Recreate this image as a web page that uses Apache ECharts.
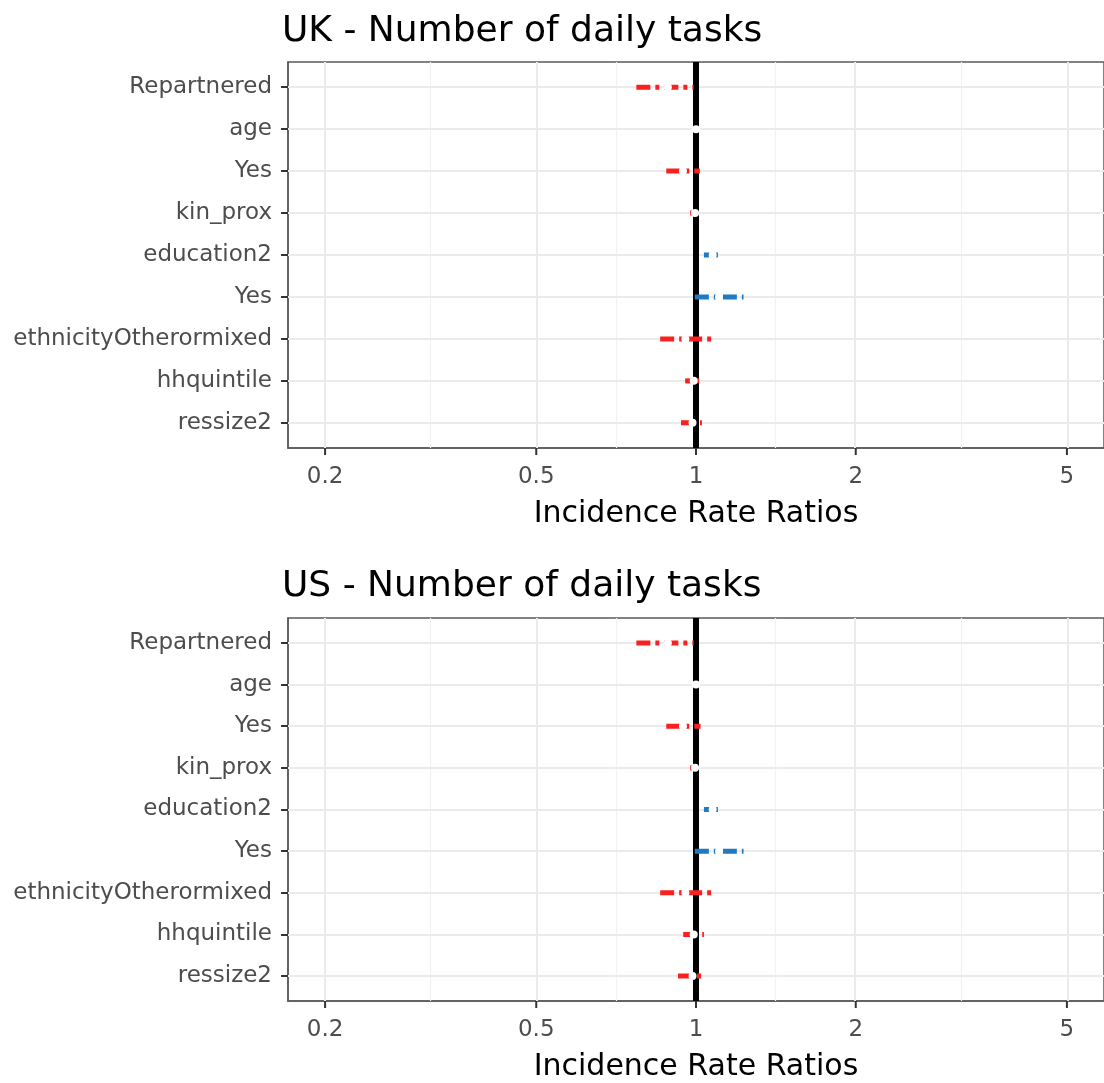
<!DOCTYPE html>
<html><head><meta charset="utf-8">
<script src="https://cdn.jsdelivr.net/npm/echarts@6/dist/echarts.min.js"></script>
<style>html,body{margin:0;padding:0;background:#fff}#c{width:1104px;height:1083px}</style>
</head><body><div id="c"></div>
<script>
// ---- data ----
const terms = ['Repartnered','age','Yes','kin_prox','education2','Yes','ethnicityOtherormixed','hhquintile','ressize2'];
const ukEstimate = [0.885, 1.000, 0.945, 0.996, 1.075, 1.105, 0.955, 0.990, 0.985];
const ukLower    = [0.772, 0.997, 0.879, 0.975, 1.035, 0.995, 0.856, 0.954, 0.937];
const ukUpper    = [0.990, 1.003, 1.017, 1.004, 1.118, 1.229, 1.076, 1.022, 1.026];
const usEstimate = [0.885, 1.000, 0.945, 0.996, 1.075, 1.105, 0.955, 0.990, 0.985];
const usLower    = [0.772, 0.997, 0.879, 0.975, 1.035, 0.995, 0.856, 0.946, 0.925];
const usUpper    = [0.990, 1.003, 1.020, 1.004, 1.118, 1.229, 1.076, 1.035, 1.035];
const tickValues = [0.2, 0.5, 1, 2, 5];
const tickLabels = ['0.2', '0.5', '1', '2', '5'];
const minorValues = [0.3162, 0.7071, 1.4142, 3.1623];
const refValue = 1;
const titles = ['UK - Number of daily tasks', 'US - Number of daily tasks'];
const xTitle = 'Incidence Rate Ratios';

// ---- styling ----
const FONT = 'DejaVu Sans';
const RED = '#FA2020', BLUE = '#1F7AC2';
const lg = Math.log10;
const expand = (lg(tickValues[tickValues.length-1]) - lg(tickValues[0])) * 0.05;
const xMin = lg(tickValues[0]) - expand, xMax = lg(tickValues[tickValues.length-1]) + expand;
const yMin = -0.6, yMax = terms.length - 1 + 0.6;
const grids = [{top: 62, height: 386}, {top: 618, height: 385}];

const option = {
  animation: false,
  backgroundColor: '#fff',
  title: titles.map((t, i) => ({
    text: t, left: 282, top: i === 0 ? 14 : 569, padding: 0,
    textStyle: {fontFamily: FONT, fontSize: 36, fontWeight: 'normal', color: '#000'}
  })),
  grid: grids.map(g => ({left: 288, right: -5, top: g.top, height: g.height, show: true,
    borderColor: '#595959', borderWidth: 1.5, backgroundColor: '#fff'})),
  xAxis: grids.map((g, i) => ({
    type: 'value', gridIndex: i, min: xMin, max: xMax,
    name: xTitle, nameLocation: 'middle', nameGap: 51,
    nameTextStyle: {fontFamily: FONT, fontSize: 30, color: '#000'},
    axisLine: {show: true, onZero: false, lineStyle: {color: '#595959', width: 1.5}},
    axisTick: {show: false},
    axisLabel: {customValues: tickValues.map(lg), margin: 18, fontFamily: FONT, fontSize: 23, color: '#4D4D4D',
      formatter: v => { let k = 0; tickValues.forEach((t, j) => { if (Math.abs(lg(t) - v) < Math.abs(lg(tickValues[k]) - v)) k = j; }); return tickLabels[k]; }},
    splitLine: {show: false}
  })),
  yAxis: grids.map((g, i) => ({
    type: 'value', gridIndex: i, inverse: true, min: yMin, max: yMax,
    axisLine: {show: true, onZero: false, lineStyle: {color: '#595959', width: 1.5}},
    axisTick: {show: true, inside: false, length: 7, lineStyle: {color: '#333', width: 2}, customValues: terms.map((_, k) => k)},
    axisLabel: {customValues: terms.map((_, k) => k), margin: 16, fontFamily: FONT, fontSize: 23, color: '#4D4D4D',
      formatter: v => terms[Math.round(v)]},
    splitLine: {show: false}
  })),
  series: []
};

const panels = [[ukEstimate, ukLower, ukUpper], [usEstimate, usLower, usUpper]];
panels.forEach(([est, lo, hi], i) => {
  // grid lines
  option.series.push({
    type: 'scatter', xAxisIndex: i, yAxisIndex: i, data: [], z: 1, silent: true,
    markLine: {z: 1, symbol: 'none', silent: true, label: {show: false}, animation: false,
      data: [
        ...minorValues.map(v => ({xAxis: lg(v), lineStyle: {color: '#F2F2F2', width: 1.2, type: 'solid'}})),
        ...tickValues.map(v => ({xAxis: lg(v), lineStyle: {color: '#EBEBEB', width: 2, type: 'solid'}})),
        ...terms.map((_, k) => ({yAxis: k, lineStyle: {color: '#EBEBEB', width: 2, type: 'solid'}}))
      ]}
  });
  // x-axis tick marks (below the panel)
  option.series.push({
    type: 'custom', xAxisIndex: i, yAxisIndex: i, z: 2, silent: true, clip: false,
    data: tickValues.map(v => [lg(v), yMax]),
    renderItem: (params, api) => {
      const p = api.coord([api.value(0), api.value(1)]);
      return {type: 'line', shape: {x1: p[0], y1: p[1], x2: p[0], y2: p[1] + 7},
        style: {stroke: '#333', lineWidth: 2}};
    }
  });
  // reference line
  option.series.push({
    type: 'scatter', xAxisIndex: i, yAxisIndex: i, data: [], z: 2, silent: true,
    markLine: {z: 2, symbol: 'none', silent: true, label: {show: false}, animation: false,
      data: [{xAxis: lg(refValue), lineStyle: {color: '#000', width: 6, type: 'solid'}}]}
  });
  // error bars
  option.series.push({
    type: 'custom', xAxisIndex: i, yAxisIndex: i, z: 3, silent: true, clip: true,
    data: terms.map((_, k) => ({value: [lg(lo[k]), lg(hi[k]), k], itemStyle: {color: est[k] < 1 ? RED : BLUE}})),
    renderItem: (params, api) => {
      const a = api.coord([api.value(0), api.value(2)]);
      const b = api.coord([api.value(1), api.value(2)]);
      return {type: 'line', shape: {x1: a[0], y1: a[1], x2: b[0], y2: b[1]},
        style: {stroke: api.visual('color'), lineWidth: 5, lineDash: [14, 5, 4, 5]}};
    }
  });
  // point estimates
  option.series.push({
    type: 'scatter', xAxisIndex: i, yAxisIndex: i, z: 4, silent: true, symbolSize: 8,
    itemStyle: {color: '#fff', opacity: 1},
    data: terms.map((_, k) => [lg(est[k]), k])
  });
});

echarts.init(document.getElementById('c'), null, {renderer: 'canvas'}).setOption(option);
</script></body></html>
